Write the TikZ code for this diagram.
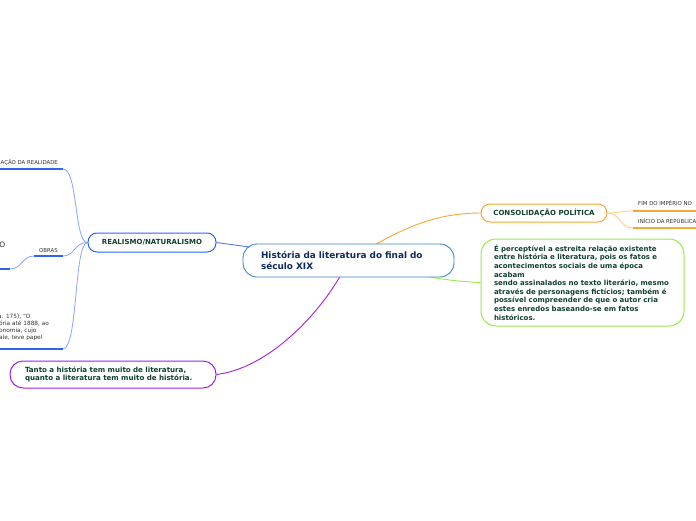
\documentclass[tikz,border=0pt]{standalone}
\usepackage{fontspec}
\setmainfont{DejaVu Sans}
\usetikzlibrary{backgrounds}
\definecolor{cblue}{HTML}{3D85C6}
\definecolor{rblue}{HTML}{2E64F0}
\definecolor{rlight}{HTML}{86A6FF}
\definecolor{linkblue}{HTML}{4F7BE8}
\definecolor{orng}{HTML}{F7A637}
\definecolor{orlight}{HTML}{FFCB7D}
\definecolor{grn}{HTML}{9BE84F}
\definecolor{purp}{HTML}{A020E8}
\definecolor{dgreen}{HTML}{10412F}
\definecolor{navy}{HTML}{0F2A5C}
\definecolor{gtext}{HTML}{333333}
\begin{document}
\begin{tikzpicture}[x=1pt,y=-1pt,
  cnode/.style={draw=cblue,line width=0.9pt,fill=white,rounded corners=14pt,minimum height=33pt,
    text width=175pt,inner xsep=18pt,align=left,font=\fontsize{8.9}{11}\selectfont\bfseries,text=navy},
  rnode/.style={draw=rblue,line width=1pt,fill=white,rounded corners=9pt,minimum width=128pt,
    minimum height=19pt,inner sep=0pt,font=\fontsize{7}{8}\selectfont\bfseries,text=dgreen},
  onode/.style={draw=orng,line width=1pt,fill=white,rounded corners=9pt,minimum width=126pt,
    minimum height=18pt,inner sep=0pt,font=\fontsize{7}{8}\selectfont\bfseries,text=dgreen},
  gnode/.style={draw=grn,line width=1pt,fill=white,rounded corners=15pt,minimum height=87pt,
    text width=177pt,inner xsep=13pt,align=left,font=\fontsize{7}{8.6}\selectfont\bfseries,text=dgreen},
  pnode/.style={draw=purp,line width=1pt,fill=white,rounded corners=13pt,minimum height=27pt,
    text width=176pt,inner xsep=15pt,align=left,font=\fontsize{7.1}{8.2}\selectfont\bfseries,text=dgreen},
  small/.style={inner sep=0pt,font=\fontsize{5.4}{7}\selectfont,text=gtext},
  tiny/.style={inner sep=0pt,font=\fontsize{5.8}{7}\selectfont,text=gtext},
  bline/.style={draw=rblue,line width=1.6pt},
  blink/.style={draw=rlight,line width=0.8pt},
  oline/.style={draw=orng,line width=1.6pt},
  olink/.style={draw=orlight,line width=0.8pt}]
\useasboundingbox (0,0) rectangle (696,520);
\clip (0,0) rectangle (696,520);

% nodes
\node[cnode] (central) at (348.5,260.5) {História da literatura do final do\\século XIX};
\node[rnode] (real) at (152,242.5) {REALISMO/NATURALISMO};
\node[onode] (cons) at (544,213) {CONSOLIDAÇÃO POLÍTICA};
\node[gnode] (green) at (582.5,282.5) {É perceptível a estreita relação existente\\
entre história e literatura, pois os fatos e\\
acontecimentos sociais de uma época\\
acabam\\
sendo assinalados no texto literário, mesmo\\
através de personagens fictícios; também é\\
possível compreender de que o autor cria\\
estes enredos baseando-se em fatos\\
históricos.};
\node[pnode] (purple) at (113,374.5) {Tanto a história tem muito de literatura,\\quanto a literatura tem muito de história.};

% topic label ends
\coordinate (t1) at (63,169);
\coordinate (t1e) at (0,169);
\coordinate (t2) at (63,256);
\coordinate (t2e) at (34,256);
\coordinate (t2s) at (10,269);
\coordinate (t2se) at (0,269);
\coordinate (t3) at (63,349);
\coordinate (t3e) at (0,349);
\coordinate (r1) at (633,211);
\coordinate (r1e) at (697,211);
\coordinate (r2) at (633,228);
\coordinate (r2e) at (697,228);

% labels
\node[small,anchor=base west] (l1) at (0.5,164) {AÇÃO DA REALIDADE};
\node[small,anchor=base] (l2) at (48.5,252) {OBRAS};
\node[inner sep=0pt,font=\fontsize{7.5}{9}\selectfont,text=gtext,anchor=base east] (l2s) at (5.5,247) {O};
\node[tiny,anchor=base west] (l3a) at (-2,318) {a. 175), “O};
\node[tiny,anchor=base west] (l3b) at (-1,325) {ória até 1888, ao};
\node[tiny,anchor=base west] (l3c) at (-1,332) {onomia, cujo};
\node[tiny,anchor=base west] (l3d) at (-1,339) {ale, teve papel};
\node[small,anchor=base west] (r1l) at (638,205.5) {FIM DO IMPÉRIO NO};
\node[small,anchor=base west] (r2l) at (638,223.5) {INÍCIO DA REPÚBLICA};

\begin{scope}[on background layer]
\fill[white] (0,0) rectangle (696,520);
\draw[draw=linkblue,line width=0.9pt] (real.east) -- (central.center);
\draw[draw=orng,line width=0.9pt] (cons.west) .. controls (430,213) and (395,232) .. (central.center);
\draw[draw=grn,line width=0.9pt] (green.west) .. controls (445,281) and (420,276) .. (central.center);
\draw[draw=purp,line width=0.9pt] (purple.east) .. controls (270,368) and (325,310) .. (central.center);
% left branches
\draw[blink] (real.west) .. controls (74,242.5) and (78,169) .. (t1);
\draw[blink] (real.west) .. controls (74,242.5) and (75,256) .. (t2);
\draw[blink] (real.west) .. controls (74,242.5) and (78,349) .. (t3);
\draw[bline] (t1) -- (t1e);
\draw[bline] (t2) -- (t2e);
\draw[blink] (t2e) .. controls (22,256) and (22,269) .. (t2s);
\draw[bline] (t2s) -- (t2se);
\draw[bline] (t3) -- (t3e);
% right branches
\draw[olink] (cons.east) .. controls (620,213) and (620,211) .. (r1);
\draw[olink] (cons.east) .. controls (620,213) and (620,228) .. (r2);
\draw[oline] (r1) -- (r1e);
\draw[oline] (r2) -- (r2e);
\end{scope}
\end{tikzpicture}
\end{document}
